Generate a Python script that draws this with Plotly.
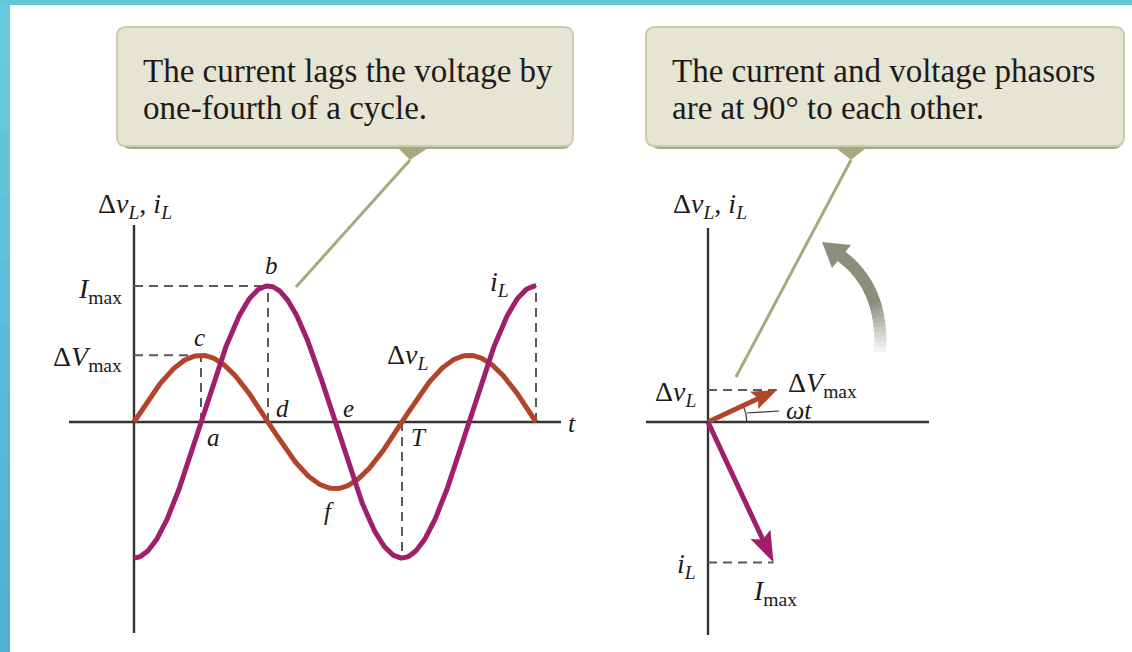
import numpy as np
import plotly.graph_objects as go

# values (current amplitude taken as 1)
I_MAX = 1.0
V_MAX = 0.49
PERIOD = 1.0
N_PERIODS = 1.5
WT_DEG = 25  # phasor angle (omega t) on the right-hand diagram

# lettered points along the waveforms
POINT_NAMES = ["a", "b", "c", "d", "e", "f", "T"]
POINT_T = [0.25, 0.5, 0.25, 0.5, 0.75, 0.75, 1.0]
POINT_V = [0.0, I_MAX, V_MAX, 0.0, 0.0, -V_MAX, 0.0]

NOTE_LEFT = ["The current lags the voltage by", "one-fourth of a cycle."]
NOTE_RIGHT = ["The current and voltage phasors", "are at 90° to each other."]

t = np.linspace(0, N_PERIODS * PERIOD, 361)
v_L = V_MAX * np.sin(2 * np.pi * t / PERIOD)
i_L = -I_MAX * np.cos(2 * np.pi * t / PERIOD)

wt = np.radians(WT_DEG)
v_tip = np.array([V_MAX * np.cos(wt), V_MAX * np.sin(wt)])
i_tip = np.array([I_MAX * np.sin(wt), -I_MAX * np.cos(wt)])

# colours
TEAL = "#63c6db"
MAGENTA = "#a01f6b"
RUST = "#b1452c"
BOX_FILL = "#e6e4d3"
BOX_EDGE = "#cdcbad"
BOX_SHADOW = "#a9a77e"
POINTER = "#aaa87e"
AXIS = "#333333"
DASH = "#5a5a5a"
GRAY_ARROW = "#8a8e7d"
INK = "#1e1a1b"
SERIF = "Liberation Serif"

# page geometry (pixels)
W, H = 1132, 652
OXL, OYL, SXL, SYL = 134, 422, 268, 136   # left plot origin / scale
OXR, OYR, SR = 708, 422, 155              # right plot origin / scale


def px(x):
    return x / W


def py(y):
    return 1 - y / H


def pt(x, y):
    return f"{px(x):.5f},{py(y):.5f}"


def rrect(x0, y0, x1, y1, r):
    return ("M" + pt(x0 + r, y0) + " L" + pt(x1 - r, y0) +
            " Q" + pt(x1, y0) + " " + pt(x1, y0 + r) + " L" + pt(x1, y1 - r) +
            " Q" + pt(x1, y1) + " " + pt(x1 - r, y1) + " L" + pt(x0 + r, y1) +
            " Q" + pt(x0, y1) + " " + pt(x0, y1 - r) + " L" + pt(x0, y0 + r) +
            " Q" + pt(x0, y0) + " " + pt(x0 + r, y0) + " Z")


shapes = []
annotations = []


def pline(x0, y0, x1, y1, color, width, dash=None, layer="above"):
    shapes.append(dict(type="line", xref="paper", yref="paper",
                       x0=px(x0), y0=py(y0), x1=px(x1), y1=py(y1), layer=layer,
                       line=dict(color=color, width=width, dash=dash)))


def dline(x0, y0, x1, y1, ax=""):
    shapes.append(dict(type="line", xref="x" + ax, yref="y" + ax,
                       x0=x0, y0=y0, x1=x1, y1=y1, layer="below",
                       line=dict(color=DASH, width=2, dash="9px,6px")))


def text(x, y, s, size=26, xanchor="center", yanchor="middle", color=INK):
    annotations.append(dict(x=px(x), y=py(y), xref="paper", yref="paper",
                            text=s, showarrow=False, xanchor=xanchor,
                            yanchor=yanchor,
                            font=dict(family=SERIF, size=size, color=color)))


def callout(x0, y0, x1, y1, tri_x0, tri_x1, tip, end, lines):
    shapes.append(dict(type="path", xref="paper", yref="paper",
                       path=rrect(x0 + 5, y0 + 5, x1 - 2, y1 + 3, 9),
                       fillcolor=BOX_SHADOW, line=dict(width=0)))
    shapes.append(dict(type="path", xref="paper", yref="paper",
                       path=rrect(x0, y0, x1, y1, 9),
                       fillcolor=BOX_FILL, line=dict(color=BOX_EDGE, width=2)))
    shapes.append(dict(type="path", xref="paper", yref="paper",
                       path="M" + pt(tri_x0, y1 + 2) + " L" + pt(tri_x1, y1 + 2) +
                       " L" + pt(*tip) + " Z",
                       fillcolor=POINTER, line=dict(width=0)))
    pline(tip[0], tip[1], end[0], end[1], POINTER, 3)
    for k, s in enumerate(lines):
        text(x0 + 24, y0 + 44 + 37 * k, s, size=33, xanchor="left")


def phasor(fig, tip, color, head_len, head_half):
    # shaft as a trace, head as a filled path, both in the x2/y2 frame
    length = np.hypot(*tip)
    u = tip / length
    n = np.array([-u[1], u[0]])
    hl, hw = head_len / SR, head_half / SR
    base = tip - u * hl
    fig.add_trace(go.Scatter(x=[0, base[0] + u[0] * hl * 0.3], y=[0, base[1] + u[1] * hl * 0.3],
                             mode="lines", xaxis="x2", yaxis="y2",
                             line=dict(color=color, width=5)))
    p1, p2 = base + n * hw, base - n * hw
    notch = base + u * hl * 0.18
    path = "M{:.4f},{:.4f} L{:.4f},{:.4f} L{:.4f},{:.4f} L{:.4f},{:.4f} Z".format(
        tip[0], tip[1], p1[0], p1[1], notch[0], notch[1], p2[0], p2[1])
    shapes.append(dict(type="path", xref="x2", yref="y2", path=path,
                       fillcolor=color, line=dict(width=0)))


fig = go.Figure()

# waveforms
fig.add_trace(go.Scatter(x=t, y=v_L, mode="lines", xaxis="x", yaxis="y",
                         line=dict(color=RUST, width=5)))
fig.add_trace(go.Scatter(x=t, y=i_L, mode="lines", xaxis="x", yaxis="y",
                         line=dict(color=MAGENTA, width=5)))

# angle mark for omega t
arc = np.linspace(0, wt, 12)
fig.add_trace(go.Scatter(x=0.25 * np.cos(arc), y=0.25 * np.sin(arc), mode="lines",
                         xaxis="x2", yaxis="y2", line=dict(color=AXIS, width=1.2)))

# phasors
phasor(fig, v_tip, RUST, 25, 9.5)
phasor(fig, i_tip, MAGENTA, 31, 11)

# page border
top_c, bot_c = np.array([101, 203, 222]), np.array([78, 176, 210])
for k in range(10):
    c = top_c + (bot_c - top_c) * k / 9
    shapes.append(dict(type="rect", xref="paper", yref="paper", x0=0, x1=px(10),
                       y0=py(H * (k + 1) / 10 + 1), y1=py(H * k / 10),
                       fillcolor="rgb(%d,%d,%d)" % tuple(c), line=dict(width=0)))
shapes.append(dict(type="rect", xref="paper", yref="paper", x0=0, x1=1,
                   y0=py(5), y1=1, fillcolor=TEAL, line=dict(width=0)))

# call-out boxes
callout(117, 27, 573, 146, 398, 428, (410, 160), (296, 287), NOTE_LEFT)
callout(646, 27, 1124, 146, 836, 866, (851, 160), (736, 377), NOTE_RIGHT)

# axes of both diagrams
pline(OXL, 225, OXL, 633, AXIS, 2.4, layer="below")
pline(69, OYL, 561, OYL, AXIS, 2.4, layer="below")
pline(OXR, 228, OXR, 635, AXIS, 2.4, layer="below")
pline(646, OYR, 929, OYR, AXIS, 2.4, layer="below")

# projection lines, left
q = PERIOD / 4
dline(0, I_MAX, 2 * q, I_MAX)
dline(0, V_MAX, q, V_MAX)
dline(q, 0, q, V_MAX)
dline(2 * q, 0, 2 * q, I_MAX)
dline(4 * q, 0, 4 * q, -I_MAX)
dline(6 * q, 0, 6 * q, I_MAX)
# projection lines, right
dline(0, v_tip[1], v_tip[0], v_tip[1], ax="2")
dline(0, i_tip[1], i_tip[0], i_tip[1], ax="2")

# rotation arrow (fades towards its tail)
p0, p1, p2 = np.array([880, 352]), np.array([884, 288]), np.array([841, 256])
s = np.linspace(0, 1, 25)
curve = [(1 - u) ** 2 * p0 + 2 * (1 - u) * u * p1 + u ** 2 * p2 for u in s]
g = np.array([138, 142, 125])
for k in range(len(curve) - 1):
    f = min(1.0, 0.1 + k / 11)
    c = 255 - (255 - g) * f
    a, b = curve[k], curve[k + 1] + (curve[k + 1] - curve[k]) * 0.3
    pline(a[0], a[1], b[0], b[1], "rgb(%d,%d,%d)" % tuple(c), 12)
shapes.append(dict(type="path", xref="paper", yref="paper",
                   path="M" + pt(822, 242) + " L" + pt(851, 245) + " L" + pt(832, 268) + " Z",
                   fillcolor=GRAY_ARROW, line=dict(width=0)))
pline(841, 256, 846, 260, GRAY_ARROW, 6)

# omega t leader
pline(747, 413, 779, 411, AXIS, 1.2)

# labels, left diagram
text(135, 205, "Δ<i>v</i><sub><i>L</i></sub>, <i>i</i><sub><i>L</i></sub>", size=28)
text(124, 290, "<i>I</i><sub>max</sub>", size=28, xanchor="right")
text(124, 358, "Δ<i>V</i><sub>max</sub>", size=28, xanchor="right")
text(499, 283, "<i>i</i><sub><i>L</i></sub>", size=28)
text(407, 357, "Δ<i>v</i><sub><i>L</i></sub>", size=28)
text(566, 423, "<i>t</i>", size=26, xanchor="left")

shift = {"a": (12, -15), "b": (3, 21), "c": (-2, 18), "d": (14, 14),
         "e": (13, 14), "f": (-6, -23), "T": (17, -15)}
for name, tx, vy in zip(POINT_NAMES, POINT_T, POINT_V):
    annotations.append(dict(x=tx, y=vy, xref="x", yref="y", text="<i>%s</i>" % name,
                            showarrow=False, xshift=shift[name][0], yshift=shift[name][1],
                            font=dict(family=SERIF, size=25, color=INK)))

# labels, right diagram
text(710, 205, "Δ<i>v</i><sub><i>L</i></sub>, <i>i</i><sub><i>L</i></sub>", size=28)
text(698, 393, "Δ<i>v</i><sub><i>L</i></sub>", size=28, xanchor="right")
text(786, 384, "Δ<i>V</i><sub>max</sub>", size=28, xanchor="left")
text(784, 410, "<i>ωt</i>", size=26, xanchor="left")
text(698, 565, "<i>i</i><sub><i>L</i></sub>", size=28, xanchor="right")
text(751, 592, "<i>I</i><sub>max</sub>", size=28, xanchor="left")

fig.update_layout(
    width=W, height=H, margin=dict(l=0, r=0, t=0, b=0),
    paper_bgcolor="white", plot_bgcolor="rgba(0,0,0,0)", showlegend=False,
    xaxis=dict(range=[-OXL / SXL, (W - OXL) / SXL], visible=False, domain=[0, 1]),
    yaxis=dict(range=[(OYL - H) / SYL, OYL / SYL], visible=False, domain=[0, 1]),
    xaxis2=dict(range=[-OXR / SR, (W - OXR) / SR], visible=False, overlaying="x",
                anchor="y2"),
    yaxis2=dict(range=[(OYR - H) / SR, OYR / SR], visible=False, overlaying="y",
                anchor="x2"),
    shapes=shapes, annotations=annotations,
)

fig.write_html("out.html", config={"displayModeBar": False},
               post_script="document.body.style.margin='0';")
